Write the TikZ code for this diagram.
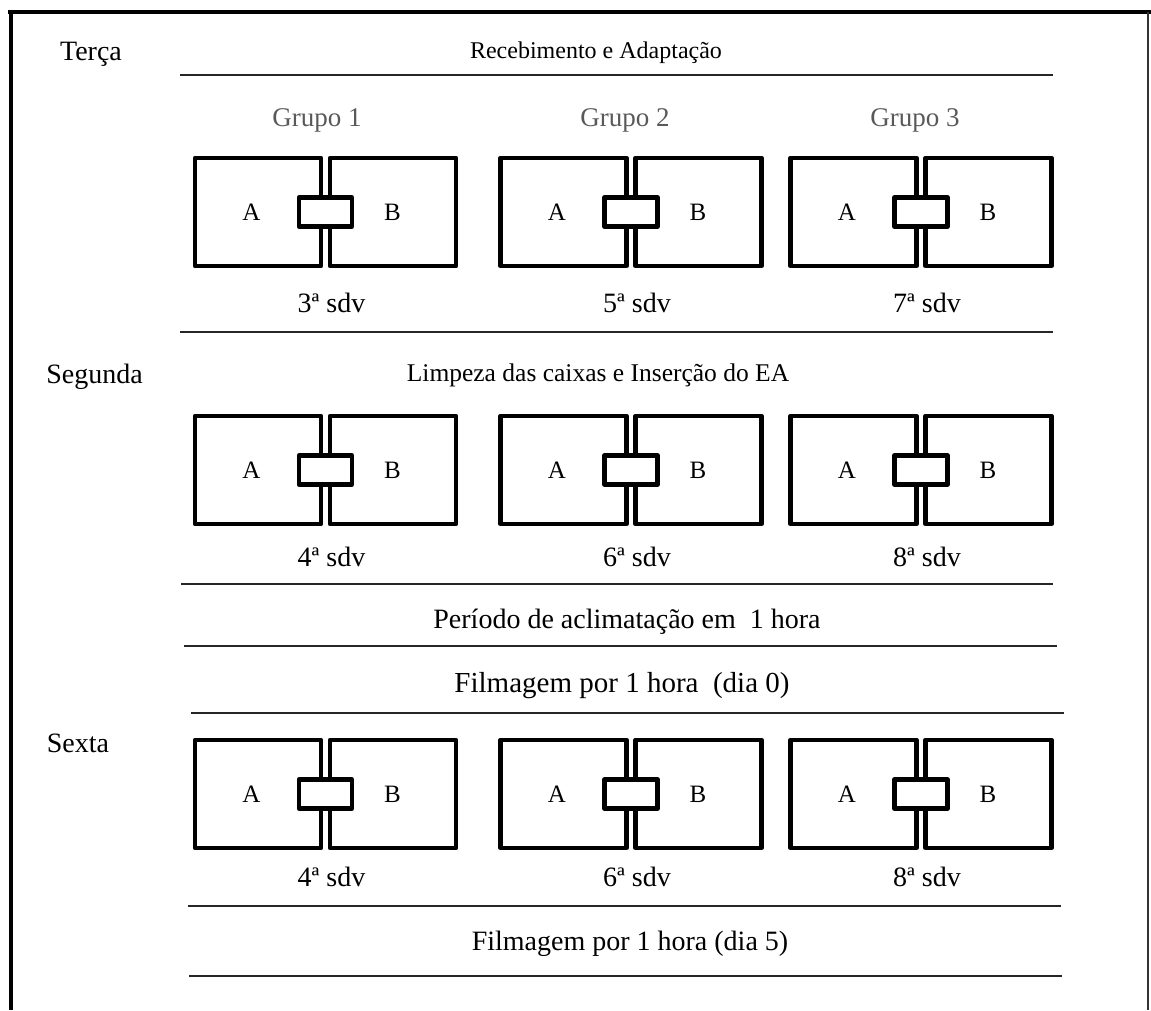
\documentclass[tikz,border=0pt]{standalone}
\usepackage{fontspec}
\setmainfont{Liberation Serif}
\newcommand{\Caixas}[3]{%
  \node[caixa] (#1a) at (#2-67.5,#3) {};
  \node[caixa] (#1b) at (#2+67.5,#3) {};
  \node[porta] (#1p) at (#2,#3) {};
  \node[letra] (#1A) at (#2-74,#3+8) {A};
  \node[letra] (#1B) at (#2+67,#3+8) {B};
}

\begin{document}
\begin{tikzpicture}
  [
    x=1pt, y=-1pt,
    caixa/.style = {draw, shape=rectangle, minimum width=126pt, minimum height=108pt, line width=4.3pt, line join=round},
    porta/.style = {draw, shape=rectangle, fill=white, minimum width=53pt, minimum height=29pt, line width=4.3pt, line join=round},
    letra/.style = {anchor=base, inner sep=0pt, font=\fontsize{25}{29}\selectfont},
    texto/.style = {anchor=base, inner sep=0pt, font=\fontsize{28}{32}\selectfont},
    grupo/.style = {anchor=base, inner sep=0pt, text=black!65, font=\fontsize{27}{31}\selectfont},
    regua/.style = {line width=1.4pt, draw=black!85},
  ]
  \useasboundingbox (0,0) rectangle (1151,1010);

  % moldura
  \draw[line width=4.5pt] (8,12) -- (1151,12);
  \draw[line width=4.5pt] (11,9.75) -- (11,1010);
  \draw[line width=1.3pt, black!80] (1148,12) -- (1148,1010);

  % terca
  \node[texto] (terca) at (91,60) {Terça};
  \node[texto, font=\fontsize{24}{28}\selectfont] (receb) at (596,58) {Recebimento e Adaptação};
  \draw[regua] (180,75) -- (1053,75);
  \node[grupo] (g1) at (317,126) {Grupo 1};
  \node[grupo] (g2) at (625,126) {Grupo 2};
  \node[grupo] (g3) at (915,126) {Grupo 3};
  \Caixas{t1}{325.5}{212}
  \Caixas{t2}{631}{212}
  \Caixas{t3}{921}{212}
  \node[texto] (t1s) at (331.5,312) {3ª sdv};
  \node[texto] (t2s) at (637,312) {5ª sdv};
  \node[texto] (t3s) at (927,312) {7ª sdv};
  \draw[regua] (180,332) -- (1053,332);

  % segunda
  \node[texto] (segunda) at (94.5,383) {Segunda};
  \node[texto, font=\fontsize{25.5}{30}\selectfont] (limpeza) at (598,381) {Limpeza das caixas e Inserção do EA};
  \Caixas{s1}{325.5}{470}
  \Caixas{s2}{631}{470}
  \Caixas{s3}{921}{470}
  \node[texto] (s1s) at (331.5,566) {4ª sdv};
  \node[texto] (s2s) at (637,566) {6ª sdv};
  \node[texto] (s3s) at (927,566) {8ª sdv};
  \draw[regua] (181,584) -- (1053,584);
  \node[texto] (aclim) at (627,628) {Período de aclimatação em\ \ 1 hora};
  \draw[regua] (184,646) -- (1057,646);
  \node[texto, font=\fontsize{29}{33}\selectfont] (film0) at (622,692) {Filmagem por 1 hora\ \ (dia 0)};
  \draw[regua] (191,713) -- (1064,713);

  % sexta
  \node[texto] (sexta) at (78,752) {Sexta};
  \Caixas{x1}{325.5}{794}
  \Caixas{x2}{631}{794}
  \Caixas{x3}{921}{794}
  \node[texto] (x1s) at (331.5,886) {4ª sdv};
  \node[texto] (x2s) at (637,886) {6ª sdv};
  \node[texto] (x3s) at (927,886) {8ª sdv};
  \draw[regua] (188,906) -- (1061,906);
  \node[texto] (film5) at (630,950) {Filmagem por 1 hora (dia 5)};
  \draw[regua] (189,976) -- (1062,976);
\end{tikzpicture}
\end{document}
